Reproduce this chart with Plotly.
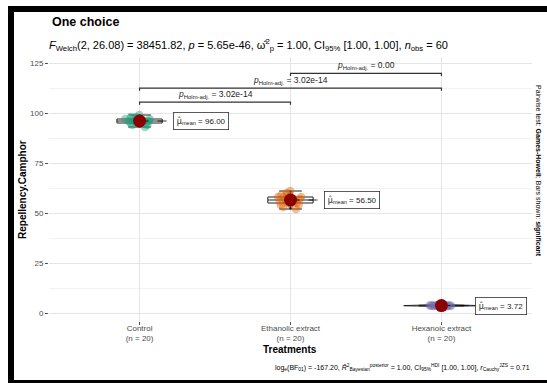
import plotly.graph_objects as go
import statistics

# ---------------- data ----------------
categories = ["Control", "Ethanolic extract", "Hexanoic extract"]
n_labels = ["(n = 20)", "(n = 20)", "(n = 20)"]
control = [93, 94, 94, 95, 95, 95, 96, 96, 96, 96, 96, 96, 97, 97, 97, 97, 98, 98, 99, 95]
ethanolic = [52, 53, 54, 54, 55, 55, 55, 56, 56, 56, 57, 57, 57, 58, 58, 58, 59, 59, 60, 61]
hexanoic = [3.5, 4.0, 3.8, 3.6, 3.9, 3.7, 3.4, 4.1, 3.7, 3.8, 3.6, 3.9, 3.5, 4.0, 3.7, 3.8, 3.6, 3.7, 3.6, 3.5]
series = [control, ethanolic, hexanoic]
point_colors = ["rgba(27,158,119,0.42)", "rgba(217,95,2,0.42)", "rgba(117,112,179,0.42)"]
y_ticks = [0, 25, 50, 75, 100, 125]

pairs = [(1, 2), (1, 3), (2, 3)]
pair_labels = ["3.02e-14", "3.02e-14", "0.00"]
bracket_levels = [105.4, 112.4, 119.8]  # layout positions of the brackets

title = "One choice"
subtitle = ("<i>F</i><sub>Welch</sub>(2, 26.08) = 38451.82, <i>p</i> = 5.65e-46, "
            "ω̂<sup>2</sup><sub>p</sub> = 1.00, CI<sub>95%</sub> [1.00, 1.00], <i>n</i><sub>obs</sub> = 60")
caption = ("log<sub>e</sub>(BF<sub>01</sub>) = -167.20, <i>R̂</i><sup>2</sup><sub>Bayesian</sub><sup>posterior</sup> = 1.00, "
           "CI<sub>95%</sub><sup>HDI</sup> [1.00, 1.00], <i>r</i><sub>Cauchy</sub><sup>JZS</sup> = 0.71")
side_text = "Pairwise test: <b>Games-Howell</b>; Bars shown: <b>significant</b>"

# ---------------- geometry ----------------
W, H = 547, 383
ML, MR, MT, MB = 49, 15, 57, 62
PW, PH = W - ML - MR, H - MT - MB
FONT = "Liberation Sans, Arial, sans-serif"


def px(x):
    return (x - ML) / PW


def py(y):
    return (H - MB - y) / PH


fig = go.Figure()

# violin widths scaled like ggplot's scale="area": narrowest spread -> widest violin
spreads = [statistics.pstdev(v) for v in series]
min_spread = min(spreads)

for i, (vals, pc) in enumerate(zip(series, point_colors)):
    pos = i + 1
    fig.add_trace(go.Violin(
        y=vals, x0=pos, width=0.5 * min_spread / spreads[i], points=False, spanmode="hard",
        line=dict(color="black", width=0.8), fillcolor="rgba(255,255,255,0.2)",
        box_visible=False, meanline_visible=False, showlegend=False, hoverinfo="skip"))
    fig.add_trace(go.Box(
        y=vals, x0=pos, width=0.3, boxpoints="all", jitter=0.65, pointpos=0,
        line=dict(color="#222222", width=1.0), fillcolor="rgba(255,255,255,0.2)",
        marker=dict(color=pc, size=8.5, line=dict(width=0)),
        showlegend=False, hoverinfo="skip"))

means = [sum(v) / len(v) for v in series]
positions = [i + 1 for i in range(len(series))]

for pos, m in zip(positions, means):
    fig.add_trace(go.Scatter(x=[pos, pos + 0.22], y=[m, m], mode="lines",
                             line=dict(color="black", width=0.8, dash="dash"),
                             showlegend=False, hoverinfo="skip"))

fig.add_trace(go.Scatter(x=positions, y=means, mode="markers",
                         marker=dict(color="#8B0000", size=13),
                         showlegend=False, hoverinfo="skip"))

annotations = []
for pos, m in zip(positions, means):
    annotations.append(dict(
        x=pos + 0.22, y=m, xref="x", yref="y", xanchor="left", yanchor="middle",
        text="<span style='font-family:DejaVu Sans'>μ̂</span><sub>mean</sub> = %.2f" % m, showarrow=False,
        font=dict(family=FONT, size=8, color="#222222"),
        bgcolor="white", bordercolor="#333333", borderwidth=0.8, borderpad=3))

shapes = []
tip = 1.3
for (a, b), lvl, lab in zip(pairs, bracket_levels, pair_labels):
    shapes.append(dict(type="path", xref="x", yref="y",
                       path="M %g %g L %g %g L %g %g L %g %g" % (a, lvl - tip, a, lvl, b, lvl, b, lvl - tip),
                       line=dict(color="#333333", width=1.2)))
    annotations.append(dict(
        x=(a + b) / 2, y=lvl, xref="x", yref="y", xanchor="center", yanchor="bottom",
        text="<i>p</i><sub>Holm-adj.</sub> = " + lab, showarrow=False,
        font=dict(family=FONT, size=8.5, color="#222222")))

# frame
shapes.append(dict(type="rect", xref="paper", yref="paper", x0=px(8), x1=px(14), y0=py(384), y1=py(6),
                   fillcolor="black", line=dict(width=0)))
shapes.append(dict(type="rect", xref="paper", yref="paper", x0=px(8), x1=px(548), y0=py(12), y1=py(6),
                   fillcolor="black", line=dict(width=0)))
shapes.append(dict(type="rect", xref="paper", yref="paper", x0=px(8), x1=px(548), y0=py(384), y1=py(380),
                   fillcolor="black", line=dict(width=0)))

annotations += [
    dict(x=px(50), y=py(22), xref="paper", yref="paper", xanchor="left", yanchor="middle",
         text="<b>" + title + "</b>", showarrow=False, font=dict(family=FONT, size=12.5, color="black")),
    dict(x=px(47), y=py(45), xref="paper", yref="paper", xanchor="left", yanchor="middle",
         text=subtitle, showarrow=False, font=dict(family=FONT, size=11, color="black")),
    dict(x=px(532), y=py(367), xref="paper", yref="paper", xanchor="right", yanchor="middle",
         text=caption, showarrow=False, font=dict(family=FONT, size=7, color="black")),
    dict(x=px(538), y=py(171), xref="paper", yref="paper", xanchor="center", yanchor="middle",
         text=side_text, textangle=90, showarrow=False, font=dict(family=FONT, size=7, color="black")),
    dict(x=px(290), y=py(349), xref="paper", yref="paper", xanchor="center", yanchor="middle",
         text="<b>Treatments</b>", showarrow=False, font=dict(family=FONT, size=10, color="black")),
    dict(x=px(22), y=py(190), xref="paper", yref="paper", xanchor="center", yanchor="middle",
         text="<b>Repellency.Camphor</b>", textangle=-90, showarrow=False,
         font=dict(family=FONT, size=10, color="black")),
]

fig.update_layout(
    width=W, height=H, margin=dict(l=ML, r=MR, t=MT, b=MB),
    paper_bgcolor="white", plot_bgcolor="white",
    font=dict(family=FONT), showlegend=False,
    boxmode="overlay", violinmode="overlay",
    shapes=shapes, annotations=annotations,
    xaxis=dict(range=[0.4, 3.6], tickmode="array", tickvals=positions,
               ticktext=[c + "<br>" + n for c, n in zip(categories, n_labels)],
               showgrid=True, gridcolor="#E5E5E5", gridwidth=1, zeroline=False,
               ticks="outside", ticklen=3, tickcolor="#555555", ticklabelstandoff=-4,
               tickfont=dict(family=FONT, size=8, color="#4D4D4D"), showline=False),
    yaxis=dict(range=[-4, 128], tickmode="array", tickvals=y_ticks,
               showgrid=True, gridcolor="#E5E5E5", gridwidth=1, zeroline=False,
               minor=dict(dtick=12.5, tick0=0, showgrid=True, gridcolor="#F2F2F2", gridwidth=0.8),
               ticks="outside", ticklen=3, tickcolor="#555555",
               tickfont=dict(family=FONT, size=8, color="#4D4D4D"), showline=False),
)

fig.write_html("out.html", config={"displayModeBar": False},
               post_script="document.body.style.margin='0';document.body.style.overflow='hidden';")
